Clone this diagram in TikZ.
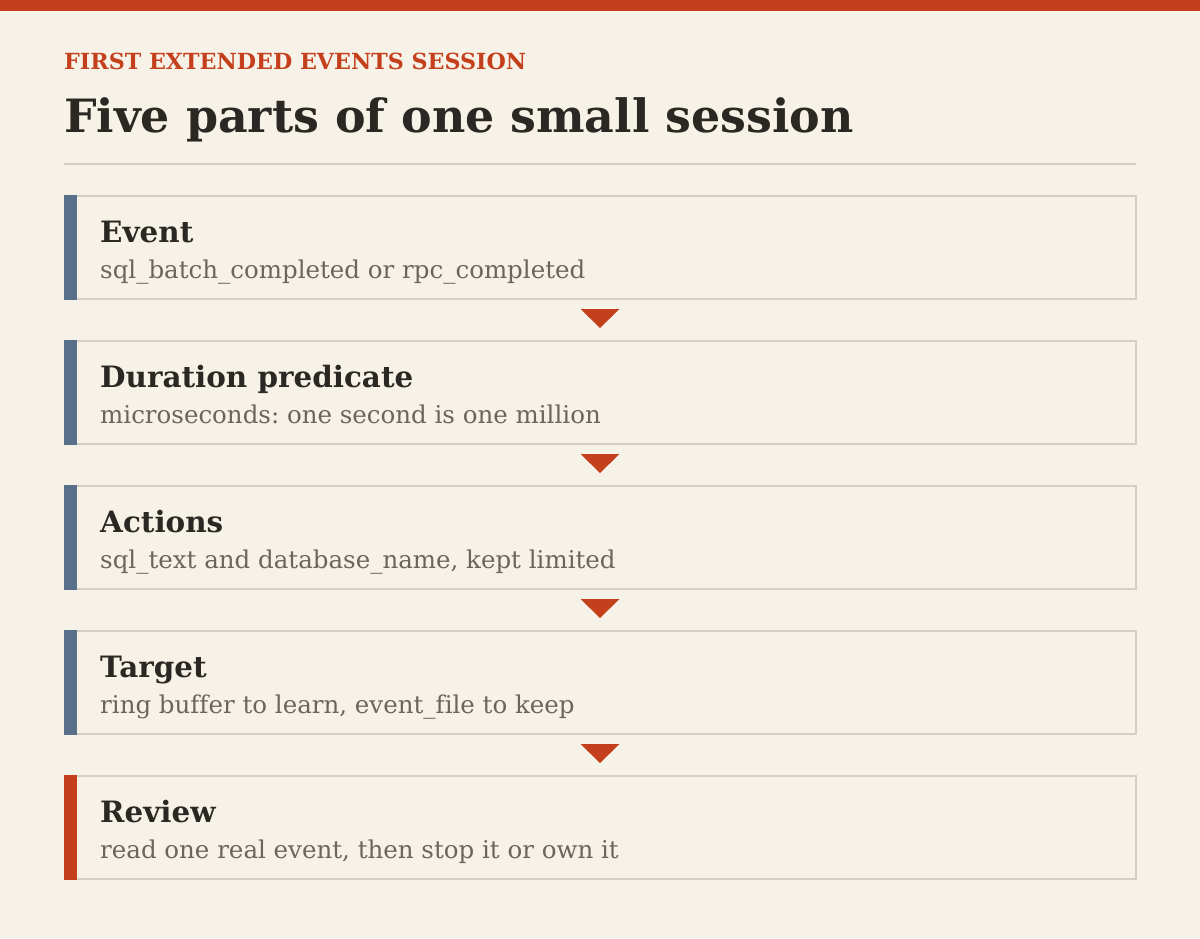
\documentclass[tikz,border=0pt]{standalone}
\usepackage{fontspec}
\setmainfont[Ligatures=NoCommon]{DejaVu Serif}
\usetikzlibrary{calc}
\definecolor{bg}{HTML}{F7F2E8}
\definecolor{accent}{HTML}{C4401C}
\definecolor{slate}{HTML}{587089}
\definecolor{frame}{HTML}{D5CEC2}
\definecolor{ink}{HTML}{2B2723}
\definecolor{muted}{HTML}{6B655C}
\frenchspacing
\tikzset{
  stagebox/.style={draw=frame, line width=2pt, fill=bg, minimum width=1071pt, minimum height=103pt, anchor=north west, inner sep=0pt, outer sep=0pt},
  stagetitle/.style={anchor=base west, inner sep=0pt, text=ink, font=\bfseries\fontsize{29.4}{29.4}\selectfont},
  stagesub/.style={anchor=base west, inner sep=0pt, text=muted, font=\fontsize{24.5}{24.5}\selectfont},
  marker/.style={fill=accent, draw=none},
}
\begin{document}
\begin{tikzpicture}[x=1pt,y=-1pt]
\fill[bg] (0,0) rectangle (1200,938);
\useasboundingbox (0,0) rectangle (1200,938);
\fill[accent] (0,0) rectangle (1200,11);
\node[anchor=base west, inner sep=0pt, text=accent, font=\bfseries\fontsize{22.2}{22.2}\selectfont] (eyebrow) at (64,69) {FIRST EXTENDED EVENTS SESSION};
\node[anchor=base west, inner sep=0pt, text=ink, font=\bfseries\fontsize{45.9}{45.9}\selectfont] (title) at (64,132) {Five parts of one small session};
\draw[frame, line width=2pt] (64,164) -- (1136,164);
\foreach \i/\t/\s/\c in {1/Event/{sql\_batch\_completed or rpc\_completed}/slate,
  2/Duration predicate/{microseconds: one second is one million}/slate,
  3/Actions/{sql\_text and database\_name, kept limited}/slate,
  4/Target/{ring buffer to learn, event\_file to keep}/slate,
  5/Review/{read one real event, then stop it or own it}/accent}{
  \pgfmathsetmacro{\top}{195.5+145*(\i-1)}
  \node[stagebox] (b\i) at (64.5,\top) {};
  \fill[\c] (64,\top-1) rectangle (77,\top+104);
  \node[stagetitle] (t\i) at (100,\top+47) {\t};
  \node[stagesub] (s\i) at (100,\top+83) {\s};
}
\foreach \i in {1,2,3,4}{
  \fill[marker] ($(b\i.south)+(-19.5,10.5)$) -- ($(b\i.south)+(19.5,10.5)$) -- ($(b\i.south)+(0,29.5)$) -- cycle;
}
\end{tikzpicture}
\end{document}
